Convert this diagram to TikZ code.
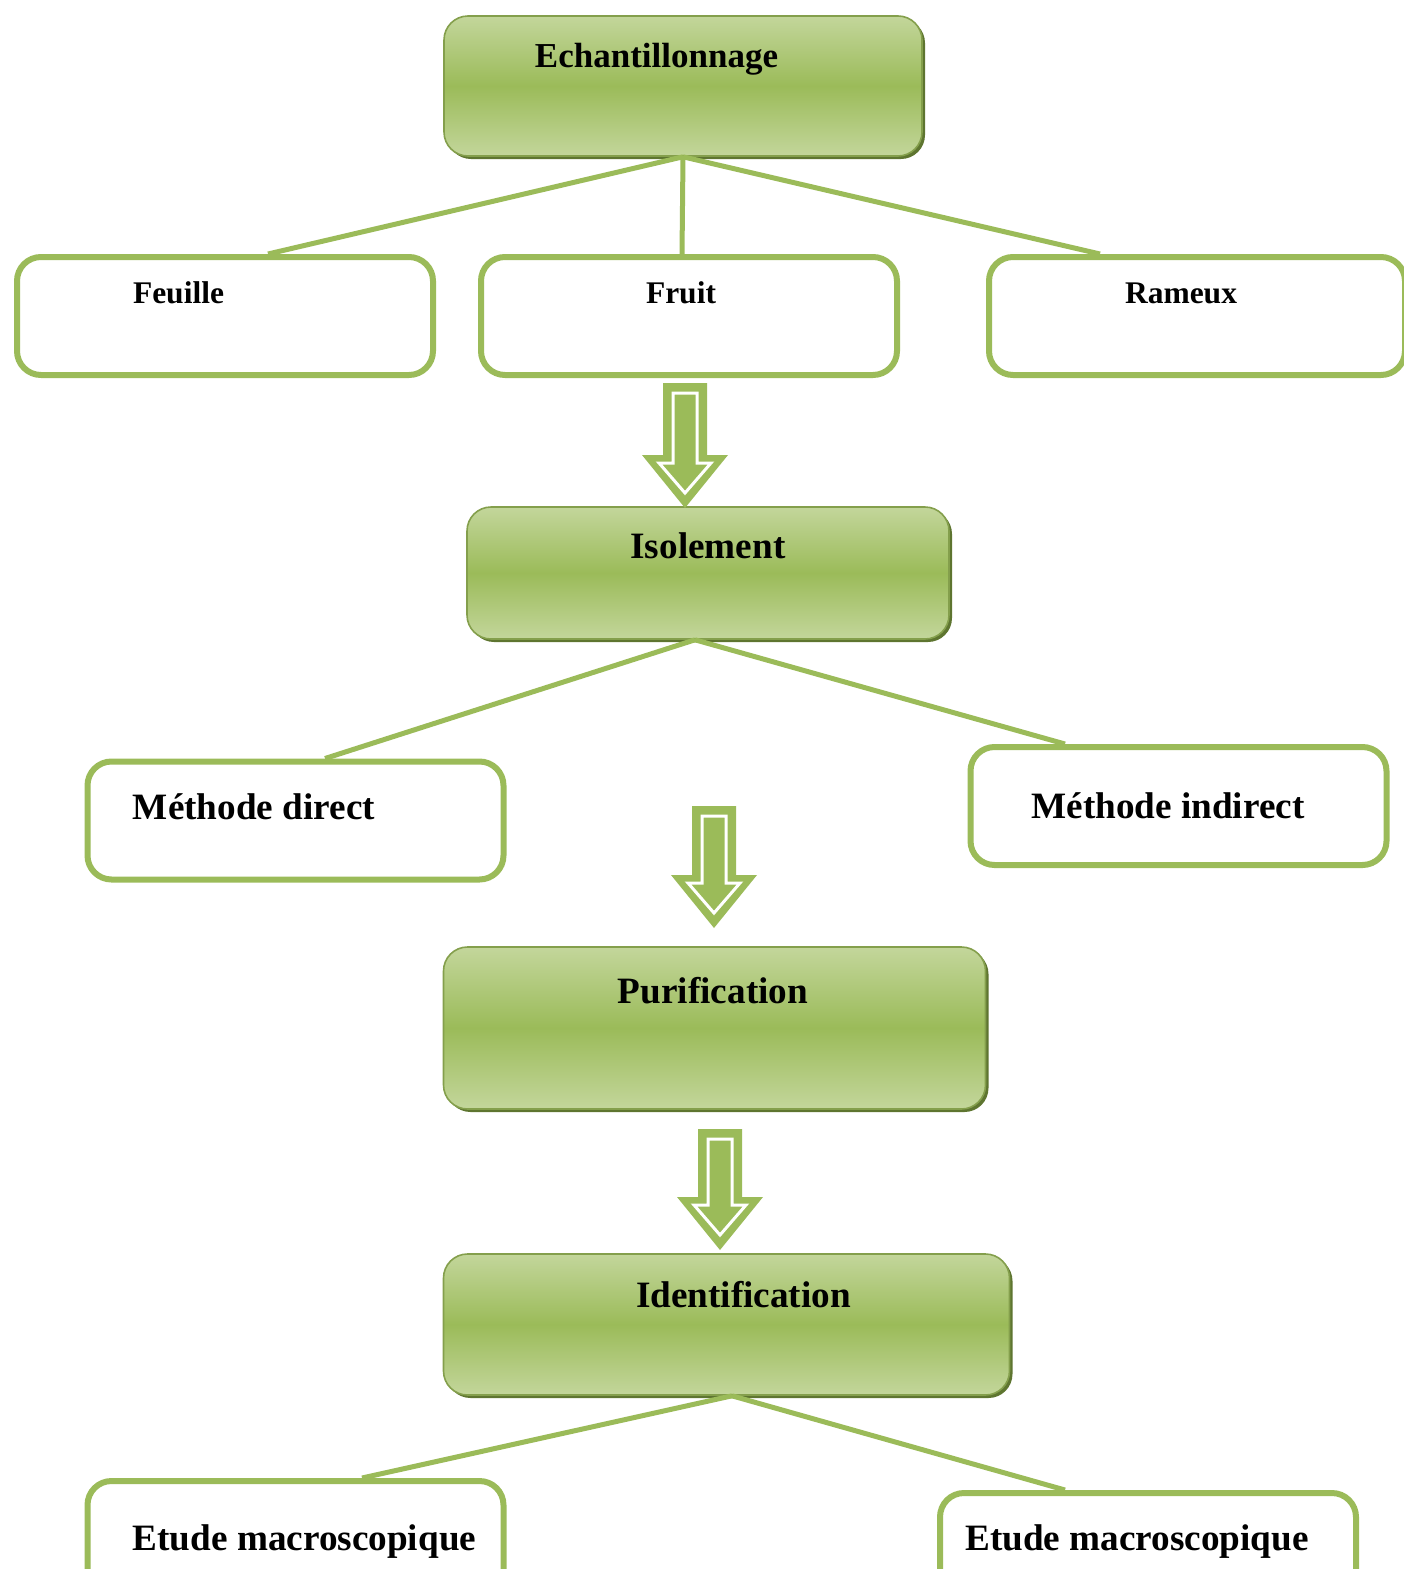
\documentclass[tikz,border=0pt]{standalone}
\usepackage{fontspec}
\setmainfont{Liberation Serif}
\usetikzlibrary{shadows}
\definecolor{leaf}{HTML}{9BBB59}
\definecolor{leaflight}{HTML}{C3D69B}
\definecolor{leafdark}{HTML}{5E7530}
\tikzset{
  stage/.style={draw=leaf!85!black, line width=0.8pt, rounded corners=12pt,
    top color=leaflight, bottom color=leaflight, middle color=leaf,
    general shadow={fill=leafdark, shadow xshift=1.5pt, shadow yshift=-1.5pt}},
  item/.style={draw=leaf, line width=3pt, rounded corners=12pt, fill=white,
    minimum width=208pt, minimum height=59pt},
  link/.style={leaf, line width=2.5pt},
  fsmall/.style={font=\bfseries\fontsize{15.75}{18}\selectfont},
  fmid/.style={font=\bfseries\fontsize{17.5}{20}\selectfont},
  fbig/.style={font=\bfseries\fontsize{18.6}{21}\selectfont},
}
\begin{document}
\begin{tikzpicture}[x=0.5pt,y=-0.5pt]
\useasboundingbox (0,0) rectangle (1403,1569);
\node[stage, minimum width=239pt, minimum height=70pt, label={[fmid, shift={(-26.5,-27)}]center:Echantillonnage}] (ech) at (683,86) {};
\node[item, label={[fsmall, shift={(-46.5,-23)}]center:Feuille}] (feuille) at (225,316) {};
\node[item, label={[fsmall, shift={(-8,-23)}]center:Fruit}] (fruit) at (689,316) {};
\node[item, label={[fsmall, shift={(-16,-23)}]center:Rameux}] (rameux) at (1197,316) {};
\node[stage, minimum width=241pt, minimum height=66pt, label={[fbig, shift={(0,-27)}]center:Isolement}] (iso) at (708,573) {};
\node[item, label={[fbig, shift={(-41.5,-14)}]center:Méthode direct}] (direct) at (295.5,820.5) {};
\node[item, label={[fbig, shift={(-10.5,0)}]center:Méthode indirect}] (indirect) at (1178.5,806) {};
\node[stage, minimum width=271pt, minimum height=81pt, label={[fbig, shift={(-1.5,-37)}]center:Purification}] (purif) at (714.5,1028) {};
\node[stage, minimum width=283pt, minimum height=70.5pt, label={[fbig, shift={(17,-29.5)}]center:Identification}] (ident) at (726.5,1324.5) {};
\node[item, label={[fbig, shift={(9,2)}]center:Etude macroscopique}] (etudea) at (295.5,1540) {};
\node[item, label={[fbig, shift={(-11,-10)}]center:Etude macroscopique}] (etudeb) at (1148,1552) {};
\draw[link] (ech.south) -- ([xshift=21.5pt]feuille.north);
\draw[link] (ech.south) -- ([xshift=-3.5pt]fruit.north);
\draw[link] (ech.south) -- ([xshift=-48.5pt]rameux.north);
\draw[link] ([xshift=-6.5pt]iso.south) -- ([xshift=14.75pt]direct.north);
\draw[link] ([xshift=-6.5pt]iso.south) -- ([xshift=-56.75pt]indirect.north);
\draw[link] ([xshift=2.75pt]ident.south) -- ([xshift=33.25pt]etudea.north);
\draw[link] ([xshift=2.75pt]ident.south) -- ([xshift=-41.5pt]etudeb.north);
\foreach \xa/\ya/\yb in {685/383/508, 714/806/928, 720/1129/1250}{
  \fill[leaf] ({\xa-22},\ya) -- ({\xa+22},\ya) -- ({\xa+22},{\yb-53}) -- ({\xa+43},{\yb-53})
    -- (\xa,\yb) -- ({\xa-43},{\yb-53}) -- ({\xa-22},{\yb-53}) -- cycle;
  \draw[white, line width=1.5pt] ({\xa-12},{\ya+10}) -- ({\xa+12},{\ya+10}) -- ({\xa+12},{\yb-45})
    -- ({\xa+26},{\yb-45}) -- (\xa,{\yb-15}) -- ({\xa-26},{\yb-45}) -- ({\xa-12},{\yb-45}) -- cycle;
}
\end{tikzpicture}
\end{document}
